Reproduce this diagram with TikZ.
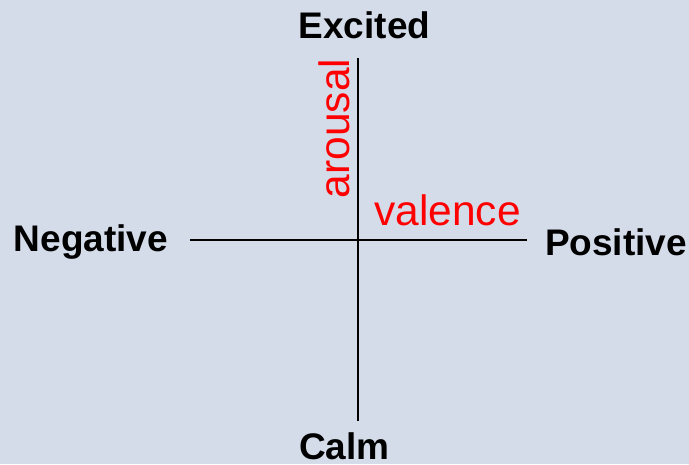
\documentclass[tikz,border=0pt]{standalone}
\usepackage{fontspec}
\setmainfont{Liberation Sans}
\definecolor{bg}{RGB}{213,220,233}
\definecolor{lbl}{RGB}{255,0,0}
\begin{document}
\begin{tikzpicture}[x=1pt,y=1pt,
  pole/.style={inner sep=0pt, anchor=base, font=\fontsize{37}{41}\selectfont\bfseries, text=black},
  axlbl/.style={inner sep=0pt, font=\fontsize{42.5}{47}\selectfont, text=lbl},
  axis/.style={draw=black, line width=1.4pt}]
\fill[bg] (0,0) rectangle (689,464);
\useasboundingbox (0,0) rectangle (689,464);
\coordinate (vtop) at (358,406);
\coordinate (vbot) at (358,43);
\coordinate (hleft) at (190,224);
\coordinate (hright) at (527,224);
\draw[axis] (vtop) -- (vbot);
\draw[axis] (hleft) -- (hright);
\node[pole] (excited) at (364.5,425) {Excited};
\node[pole] (calm) at (344.5,4) {Calm};
\node[pole] (negative) at (91,212) {Negative};
\node[pole] (positive) at (616,208) {Positive};
\node[axlbl, anchor=base west] (valence) at (374,238) {valence};
\node[axlbl, anchor=base, rotate=90] (arousal) at (349,335.5) {arousal};
\end{tikzpicture}
\end{document}
